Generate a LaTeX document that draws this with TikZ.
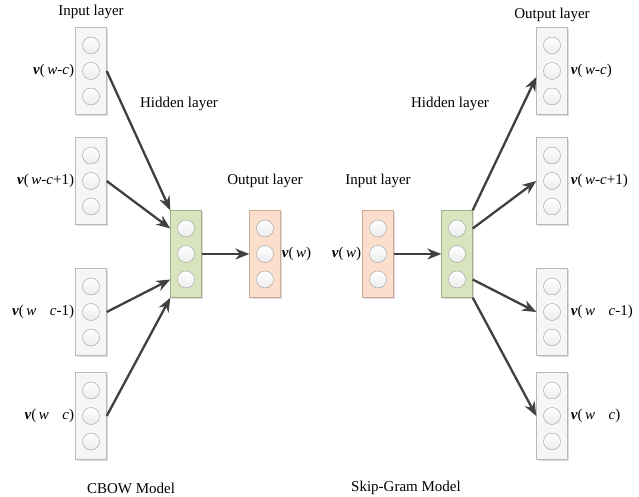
\documentclass[tikz,border=0pt]{standalone}
\usepackage{fontspec}
\setmainfont{Liberation Serif}
\usetikzlibrary{arrows.meta,shadows}

\definecolor{hidgreen}{RGB}{215,228,190}
\definecolor{hidedge}{RGB}{160,176,135}
\definecolor{wpeach}{RGB}{251,222,204}
\definecolor{wedge}{RGB}{205,170,150}

\tikzset{
  box/.style={draw=gray!55,fill=gray!7,minimum width=31pt,minimum height=87pt,inner sep=0pt,
    drop shadow={shadow xshift=1.6pt,shadow yshift=-1.6pt,fill=gray!45,opacity=.6}},
  hidbox/.style={box,draw=hidedge,fill=hidgreen},
  wbox/.style={box,draw=wedge,fill=wpeach},
  neuron/.style={circle,minimum size=17pt,inner sep=0pt,draw=gray!75,
    top color=white,bottom color=gray!15},
  arr/.style={-{Stealth[length=14pt,width=11pt]},line width=2.3pt,draw=black!75},
  txt/.style={font=\fontsize{15}{18}\selectfont,inner sep=1pt}
}

% box with three neurons: name, x, y, style
\newcommand{\nnlayer}[4]{%
  \node[#4] (#1) at (#2,#3) {};
  \foreach \k in {1,2,3}
    \node[neuron] (#1-\k) at (#2,{#3+(\k-2)*25.5}) {};
}
\newcommand{\vv}{\textbf{\textit{v}}}

\begin{document}
\begin{tikzpicture}[x=1pt,y=-1pt]
\useasboundingbox (0,0) rectangle (639,497);

% CBOW
\nnlayer{in1}{91}{71}{box}
\nnlayer{in2}{91}{181}{box}
\nnlayer{in3}{91}{312}{box}
\nnlayer{in4}{91}{416}{box}
\nnlayer{hid}{186}{254}{hidbox}
\nnlayer{out}{265}{254}{wbox}

\node[txt] (inlab) at (91,12) {Input layer};
\node[txt] (hidlab) at (179,104) {Hidden layer};
\node[txt] (outlab) at (265,181) {Output layer};
\node[txt] (cbow) at (131,488) {CBOW Model};

\node[txt,anchor=east] at (in1.west) {\vv(\,\textit{w}-\textit{c})};
\node[txt,anchor=east] at (in2.west) {\vv(\,\textit{w}-\textit{c}+1)};
\node[txt,anchor=east] at (in3.west) {\vv(\,\textit{w}\hspace{0.9em}\textit{c}-1)};
\node[txt,anchor=east] at (in4.west) {\vv(\,\textit{w}\hspace{0.9em}\textit{c})};
\node[txt,anchor=west] at (out.east) {\vv(\,\textit{w})};

\draw[arr] (in1.east) -- (hid.north west);
\draw[arr] (in2.east) -- (hid.west |- hid-1);
\draw[arr] (in3.east) -- (hid.west |- hid-3);
\draw[arr] (in4.east) -- (hid.south west);
\draw[arr] (hid.east) -- (out.west);

% Skip-Gram
\nnlayer{sin}{378}{254}{wbox}
\nnlayer{shid}{457}{254}{hidbox}
\nnlayer{sout1}{552}{71}{box}
\nnlayer{sout2}{552}{181}{box}
\nnlayer{sout3}{552}{312}{box}
\nnlayer{sout4}{552}{416}{box}

\node[txt] (sinlab) at (378,181) {Input layer};
\node[txt] (shidlab) at (450,104) {Hidden layer};
\node[txt] (soutlab) at (552,15) {Output layer};
\node[txt] (skip) at (406,488) {Skip-Gram Model};

\node[txt,anchor=east] at (sin.west) {\vv(\,\textit{w})};
\node[txt,anchor=west,xshift=2pt] at (sout1.east) {\vv(\,\textit{w}-\textit{c})};
\node[txt,anchor=west,xshift=2pt] at (sout2.east) {\vv(\,\textit{w}-\textit{c}+1)};
\node[txt,anchor=west,xshift=2pt] at (sout3.east) {\vv(\,\textit{w}\hspace{0.9em}\textit{c}-1)};
\node[txt,anchor=west,xshift=2pt] at (sout4.east) {\vv(\,\textit{w}\hspace{0.9em}\textit{c})};

\draw[arr] (sin.east) -- (shid.west);
\draw[arr] (shid.north east) -- ([yshift=-6pt]sout1.west);
\draw[arr] (shid.east |- shid-1) -- (sout2.west);
\draw[arr] (shid.east |- shid-3) -- (sout3.west);
\draw[arr] (shid.south east) -- (sout4.west);
\end{tikzpicture}
\end{document}
